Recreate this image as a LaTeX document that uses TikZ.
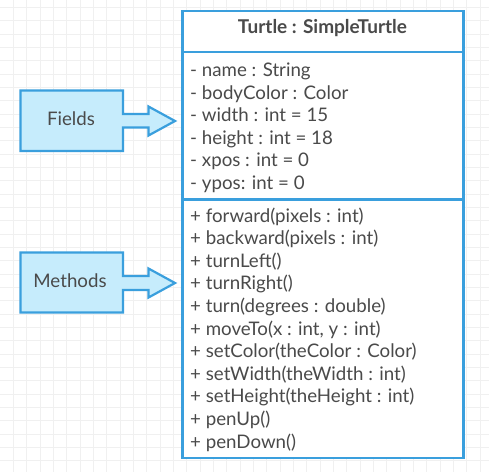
\documentclass[tikz,border=0pt]{standalone}
\usepackage{fontspec}
\setmainfont{Lato}
\definecolor{umlblue}{HTML}{3A9FDD}
\definecolor{arrowfill}{HTML}{C6ECFC}
\definecolor{txt}{HTML}{4A4A4A}
\definecolor{gridc}{HTML}{F0F0F0}
\tikzset{
  umlline/.style={draw=umlblue,line width=2.2pt},
  calloutshape/.style={draw=umlblue,fill=arrowfill,line width=2.2pt,line join=miter},
  membertext/.style={anchor=base west,inner sep=0pt,text=txt,font=\fontsize{18.7}{22}\selectfont},
  labeltext/.style={anchor=center,inner sep=0pt,text=txt,font=\fontsize{18.7}{22}\selectfont},
  headtext/.style={anchor=center,inner sep=0pt,text=txt,font=\bfseries\fontsize{19}{22}\selectfont},
}
\begin{document}
\begin{tikzpicture}[x=1pt,y=-1pt]
\useasboundingbox (0,0) rectangle (489,472);
\fill[white] (0,0) rectangle (489,472);
% grid
\foreach \i in {1,...,36} \draw[gridc,line width=0.8pt] (13.333*\i,0) -- (13.333*\i,472);
\foreach \j in {0,...,35} \draw[gridc,line width=0.8pt] (0,7.4+13.333*\j) -- (489,7.4+13.333*\j);
% class box
\coordinate (boxnw) at (182.5,11);
\coordinate (boxse) at (463.5,458);
\fill[white] (boxnw) rectangle (boxse);
\draw[umlline] (boxnw) rectangle (boxse);
\coordinate (d1w) at (182.5,52); \coordinate (d1e) at (463.5,52);
\coordinate (d2w) at (182.5,199.5); \coordinate (d2e) at (463.5,199.5);
\draw[umlline] (d1w) -- (d1e);
\draw[umlline] (d2w) -- (d2e);
\node[headtext] (title) at (322.5,28.5) {Turtle : SimpleTurtle};
% fields
\node[membertext] (f1) at (190,76.5) {- name : String};
\node[membertext] (f2) at (190,99) {- bodyColor : Color};
\node[membertext] (f3) at (190,121.5) {- width : int = 15};
\node[membertext] (f4) at (190,144) {- height : int = 18};
\node[membertext] (f5) at (190,166.5) {- xpos : int = 0};
\node[membertext] (f6) at (190,189) {- ypos: int = 0};
% methods
\node[membertext] (m1) at (190,222) {+ forward(pixels : int)};
\node[membertext] (m2) at (190,244.6) {+ backward(pixels : int)};
\node[membertext] (m3) at (190,267.2) {+ turnLeft()};
\node[membertext] (m4) at (190,289.8) {+ turnRight()};
\node[membertext] (m5) at (190,312.4) {+ turn(degrees : double)};
\node[membertext] (m6) at (190,335) {+ moveTo(x : int, y : int)};
\node[membertext] (m7) at (190,357.6) {+ setColor(theColor : Color)};
\node[membertext] (m8) at (190,380.2) {+ setWidth(theWidth : int)};
\node[membertext] (m9) at (190,402.8) {+ setHeight(theHeight : int)};
\node[membertext] (m10) at (190,425.4) {+ penUp()};
\node[membertext] (m11) at (190,448) {+ penDown()};
% callout arrows
\draw[calloutshape] (20.5,90.5) -- (123,90.5) -- (123,114) -- (148.5,114) -- (148.5,106.5) -- (175,121) -- (148.5,135.5) -- (148.5,127.5) -- (123,127.5) -- (123,151) -- (20.5,151) -- cycle;
\node[labeltext] (fieldslbl) at (71,119) {Fields};
\draw[calloutshape] (20.5,252.5) -- (123,252.5) -- (123,276) -- (148.5,276) -- (148.5,268.5) -- (175,283) -- (148.5,297.5) -- (148.5,290) -- (123,290) -- (123,312.5) -- (20.5,312.5) -- cycle;
\node[labeltext] (methodslbl) at (70,281) {Methods};
\end{tikzpicture}
\end{document}
